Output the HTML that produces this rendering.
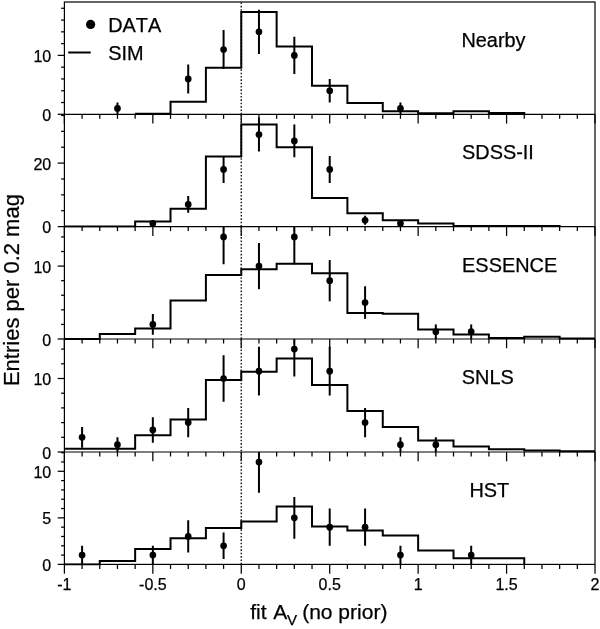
<!DOCTYPE html>
<html><head><meta charset="utf-8"><style>
html,body{margin:0;padding:0;background:#fff;}
svg{display:block;font-family:"Liberation Sans",sans-serif;font-kerning:none;will-change:transform;}
text{font-kerning:none;stroke:#000;stroke-width:0.25px;}
</style></head><body>
<svg width="600" height="629" viewBox="0 0 600 629" font-family="Liberation Sans, sans-serif" fill="#000">
<rect width="600" height="629" fill="#fff"/>
<clipPath id="c0"><rect x="64.4" y="2.0" width="530.6" height="113.3"/></clipPath>
<line x1="241.27" y1="2.00" x2="241.27" y2="114.30" stroke="#222" stroke-width="1.5" stroke-dasharray="1.6 1.74" stroke-dashoffset="-0.5"/>
<path d="M135.15,113.75 H170.52 V101.75 H205.90 V67.75 H241.27 V12.00 H276.64 V46.50 H312.02 V85.75 H347.39 V103.00 H382.77 V111.25 H418.14 V113.25 H453.51 V111.25 H488.89 V113.00 H524.26 V114.30" fill="none" stroke="#000" stroke-width="2.0" stroke-linejoin="miter" stroke-linecap="butt" clip-path="url(#c0)"/>
<line x1="117.46" y1="102.52" x2="117.46" y2="114.30" stroke="#000" stroke-width="2.0" clip-path="url(#c0)"/>
<circle cx="117.46" cy="108.41" r="3.35" fill="#000" clip-path="url(#c0)"/>
<line x1="188.21" y1="64.53" x2="188.21" y2="93.39" stroke="#000" stroke-width="2.0" clip-path="url(#c0)"/>
<circle cx="188.21" cy="78.96" r="3.35" fill="#000" clip-path="url(#c0)"/>
<line x1="223.58" y1="29.98" x2="223.58" y2="69.04" stroke="#000" stroke-width="2.0" clip-path="url(#c0)"/>
<circle cx="223.58" cy="49.51" r="3.35" fill="#000" clip-path="url(#c0)"/>
<line x1="258.96" y1="9.80" x2="258.96" y2="53.88" stroke="#000" stroke-width="2.0" clip-path="url(#c0)"/>
<circle cx="258.96" cy="31.84" r="3.35" fill="#000" clip-path="url(#c0)"/>
<line x1="294.33" y1="36.77" x2="294.33" y2="74.03" stroke="#000" stroke-width="2.0" clip-path="url(#c0)"/>
<circle cx="294.33" cy="55.40" r="3.35" fill="#000" clip-path="url(#c0)"/>
<line x1="329.71" y1="78.96" x2="329.71" y2="102.52" stroke="#000" stroke-width="2.0" clip-path="url(#c0)"/>
<circle cx="329.71" cy="90.74" r="3.35" fill="#000" clip-path="url(#c0)"/>
<line x1="400.45" y1="102.52" x2="400.45" y2="114.30" stroke="#000" stroke-width="2.0" clip-path="url(#c0)"/>
<circle cx="400.45" cy="108.41" r="3.35" fill="#000" clip-path="url(#c0)"/>
<line x1="57.70" y1="114.30" x2="64.40" y2="114.30" stroke="#000" stroke-width="1.25"/>
<line x1="61.10" y1="102.52" x2="64.40" y2="102.52" stroke="#000" stroke-width="1.25"/>
<line x1="61.10" y1="90.74" x2="64.40" y2="90.74" stroke="#000" stroke-width="1.25"/>
<line x1="61.10" y1="78.96" x2="64.40" y2="78.96" stroke="#000" stroke-width="1.25"/>
<line x1="61.10" y1="67.18" x2="64.40" y2="67.18" stroke="#000" stroke-width="1.25"/>
<line x1="57.70" y1="55.40" x2="64.40" y2="55.40" stroke="#000" stroke-width="1.25"/>
<line x1="61.10" y1="43.62" x2="64.40" y2="43.62" stroke="#000" stroke-width="1.25"/>
<line x1="61.10" y1="31.84" x2="64.40" y2="31.84" stroke="#000" stroke-width="1.25"/>
<line x1="61.10" y1="20.06" x2="64.40" y2="20.06" stroke="#000" stroke-width="1.25"/>
<line x1="61.10" y1="8.28" x2="64.40" y2="8.28" stroke="#000" stroke-width="1.25"/>
<text x="51.2" y="120.90" font-size="16" text-anchor="end">0</text>
<text x="51.2" y="62.00" font-size="16" text-anchor="end">10</text>
<line x1="64.40" y1="114.30" x2="64.40" y2="123.60" stroke="#000" stroke-width="1.25"/>
<line x1="82.09" y1="114.30" x2="82.09" y2="118.80" stroke="#000" stroke-width="1.25"/>
<line x1="99.77" y1="114.30" x2="99.77" y2="118.80" stroke="#000" stroke-width="1.25"/>
<line x1="117.46" y1="114.30" x2="117.46" y2="118.80" stroke="#000" stroke-width="1.25"/>
<line x1="135.15" y1="114.30" x2="135.15" y2="118.80" stroke="#000" stroke-width="1.25"/>
<line x1="152.84" y1="114.30" x2="152.84" y2="123.60" stroke="#000" stroke-width="1.25"/>
<line x1="170.52" y1="114.30" x2="170.52" y2="118.80" stroke="#000" stroke-width="1.25"/>
<line x1="188.21" y1="114.30" x2="188.21" y2="118.80" stroke="#000" stroke-width="1.25"/>
<line x1="205.90" y1="114.30" x2="205.90" y2="118.80" stroke="#000" stroke-width="1.25"/>
<line x1="223.58" y1="114.30" x2="223.58" y2="118.80" stroke="#000" stroke-width="1.25"/>
<line x1="241.27" y1="114.30" x2="241.27" y2="123.60" stroke="#000" stroke-width="1.25"/>
<line x1="258.96" y1="114.30" x2="258.96" y2="118.80" stroke="#000" stroke-width="1.25"/>
<line x1="276.64" y1="114.30" x2="276.64" y2="118.80" stroke="#000" stroke-width="1.25"/>
<line x1="294.33" y1="114.30" x2="294.33" y2="118.80" stroke="#000" stroke-width="1.25"/>
<line x1="312.02" y1="114.30" x2="312.02" y2="118.80" stroke="#000" stroke-width="1.25"/>
<line x1="329.71" y1="114.30" x2="329.71" y2="123.60" stroke="#000" stroke-width="1.25"/>
<line x1="347.39" y1="114.30" x2="347.39" y2="118.80" stroke="#000" stroke-width="1.25"/>
<line x1="365.08" y1="114.30" x2="365.08" y2="118.80" stroke="#000" stroke-width="1.25"/>
<line x1="382.77" y1="114.30" x2="382.77" y2="118.80" stroke="#000" stroke-width="1.25"/>
<line x1="400.45" y1="114.30" x2="400.45" y2="118.80" stroke="#000" stroke-width="1.25"/>
<line x1="418.14" y1="114.30" x2="418.14" y2="123.60" stroke="#000" stroke-width="1.25"/>
<line x1="435.83" y1="114.30" x2="435.83" y2="118.80" stroke="#000" stroke-width="1.25"/>
<line x1="453.51" y1="114.30" x2="453.51" y2="118.80" stroke="#000" stroke-width="1.25"/>
<line x1="471.20" y1="114.30" x2="471.20" y2="118.80" stroke="#000" stroke-width="1.25"/>
<line x1="488.89" y1="114.30" x2="488.89" y2="118.80" stroke="#000" stroke-width="1.25"/>
<line x1="506.58" y1="114.30" x2="506.58" y2="123.60" stroke="#000" stroke-width="1.25"/>
<line x1="524.26" y1="114.30" x2="524.26" y2="118.80" stroke="#000" stroke-width="1.25"/>
<line x1="541.95" y1="114.30" x2="541.95" y2="118.80" stroke="#000" stroke-width="1.25"/>
<line x1="559.64" y1="114.30" x2="559.64" y2="118.80" stroke="#000" stroke-width="1.25"/>
<line x1="577.32" y1="114.30" x2="577.32" y2="118.80" stroke="#000" stroke-width="1.25"/>
<line x1="595.01" y1="114.30" x2="595.01" y2="123.60" stroke="#000" stroke-width="1.25"/>
<text x="461.40" y="47.00" font-size="19.9">Nearby</text>
<clipPath id="c1"><rect x="64.4" y="114.3" width="530.6" height="113.3"/></clipPath>
<line x1="241.27" y1="114.30" x2="241.27" y2="226.60" stroke="#222" stroke-width="1.5" stroke-dasharray="1.6 1.74" stroke-dashoffset="-0.5"/>
<path d="M64.40,226.60 H99.77 V226.60 H135.15 V221.50 H170.52 V208.75 H205.90 V156.60 H241.27 V124.50 H276.64 V147.25 H312.02 V197.90 H347.39 V213.25 H382.77 V220.25 H418.14 V223.50 H453.51 V226.10 H488.89 V225.90 H524.26 V225.90 H559.64 V226.60" fill="none" stroke="#000" stroke-width="2.0" stroke-linejoin="miter" stroke-linecap="butt" clip-path="url(#c1)"/>
<line x1="152.84" y1="220.25" x2="152.84" y2="226.60" stroke="#000" stroke-width="2.0" clip-path="url(#c1)"/>
<circle cx="152.84" cy="223.42" r="3.35" fill="#000" clip-path="url(#c1)"/>
<line x1="188.21" y1="195.97" x2="188.21" y2="212.78" stroke="#000" stroke-width="2.0" clip-path="url(#c1)"/>
<circle cx="188.21" cy="204.38" r="3.35" fill="#000" clip-path="url(#c1)"/>
<line x1="223.58" y1="155.98" x2="223.58" y2="182.92" stroke="#000" stroke-width="2.0" clip-path="url(#c1)"/>
<circle cx="223.58" cy="169.45" r="3.35" fill="#000" clip-path="url(#c1)"/>
<line x1="258.96" y1="117.43" x2="258.96" y2="151.62" stroke="#000" stroke-width="2.0" clip-path="url(#c1)"/>
<circle cx="258.96" cy="134.53" r="3.35" fill="#000" clip-path="url(#c1)"/>
<line x1="294.33" y1="124.38" x2="294.33" y2="157.37" stroke="#000" stroke-width="2.0" clip-path="url(#c1)"/>
<circle cx="294.33" cy="140.88" r="3.35" fill="#000" clip-path="url(#c1)"/>
<line x1="329.71" y1="155.98" x2="329.71" y2="182.92" stroke="#000" stroke-width="2.0" clip-path="url(#c1)"/>
<circle cx="329.71" cy="169.45" r="3.35" fill="#000" clip-path="url(#c1)"/>
<line x1="365.08" y1="215.76" x2="365.08" y2="224.74" stroke="#000" stroke-width="2.0" clip-path="url(#c1)"/>
<circle cx="365.08" cy="220.25" r="3.35" fill="#000" clip-path="url(#c1)"/>
<line x1="400.45" y1="220.25" x2="400.45" y2="226.60" stroke="#000" stroke-width="2.0" clip-path="url(#c1)"/>
<circle cx="400.45" cy="223.42" r="3.35" fill="#000" clip-path="url(#c1)"/>
<line x1="57.70" y1="226.60" x2="64.40" y2="226.60" stroke="#000" stroke-width="1.25"/>
<line x1="61.10" y1="210.72" x2="64.40" y2="210.72" stroke="#000" stroke-width="1.25"/>
<line x1="61.10" y1="194.85" x2="64.40" y2="194.85" stroke="#000" stroke-width="1.25"/>
<line x1="61.10" y1="178.97" x2="64.40" y2="178.97" stroke="#000" stroke-width="1.25"/>
<line x1="57.70" y1="163.10" x2="64.40" y2="163.10" stroke="#000" stroke-width="1.25"/>
<line x1="61.10" y1="147.22" x2="64.40" y2="147.22" stroke="#000" stroke-width="1.25"/>
<line x1="61.10" y1="131.35" x2="64.40" y2="131.35" stroke="#000" stroke-width="1.25"/>
<line x1="61.10" y1="115.47" x2="64.40" y2="115.47" stroke="#000" stroke-width="1.25"/>
<text x="51.2" y="233.20" font-size="16" text-anchor="end">0</text>
<text x="51.2" y="169.70" font-size="16" text-anchor="end">20</text>
<line x1="64.40" y1="226.60" x2="64.40" y2="235.90" stroke="#000" stroke-width="1.25"/>
<line x1="82.09" y1="226.60" x2="82.09" y2="231.10" stroke="#000" stroke-width="1.25"/>
<line x1="99.77" y1="226.60" x2="99.77" y2="231.10" stroke="#000" stroke-width="1.25"/>
<line x1="117.46" y1="226.60" x2="117.46" y2="231.10" stroke="#000" stroke-width="1.25"/>
<line x1="135.15" y1="226.60" x2="135.15" y2="231.10" stroke="#000" stroke-width="1.25"/>
<line x1="152.84" y1="226.60" x2="152.84" y2="235.90" stroke="#000" stroke-width="1.25"/>
<line x1="170.52" y1="226.60" x2="170.52" y2="231.10" stroke="#000" stroke-width="1.25"/>
<line x1="188.21" y1="226.60" x2="188.21" y2="231.10" stroke="#000" stroke-width="1.25"/>
<line x1="205.90" y1="226.60" x2="205.90" y2="231.10" stroke="#000" stroke-width="1.25"/>
<line x1="223.58" y1="226.60" x2="223.58" y2="231.10" stroke="#000" stroke-width="1.25"/>
<line x1="241.27" y1="226.60" x2="241.27" y2="235.90" stroke="#000" stroke-width="1.25"/>
<line x1="258.96" y1="226.60" x2="258.96" y2="231.10" stroke="#000" stroke-width="1.25"/>
<line x1="276.64" y1="226.60" x2="276.64" y2="231.10" stroke="#000" stroke-width="1.25"/>
<line x1="294.33" y1="226.60" x2="294.33" y2="231.10" stroke="#000" stroke-width="1.25"/>
<line x1="312.02" y1="226.60" x2="312.02" y2="231.10" stroke="#000" stroke-width="1.25"/>
<line x1="329.71" y1="226.60" x2="329.71" y2="235.90" stroke="#000" stroke-width="1.25"/>
<line x1="347.39" y1="226.60" x2="347.39" y2="231.10" stroke="#000" stroke-width="1.25"/>
<line x1="365.08" y1="226.60" x2="365.08" y2="231.10" stroke="#000" stroke-width="1.25"/>
<line x1="382.77" y1="226.60" x2="382.77" y2="231.10" stroke="#000" stroke-width="1.25"/>
<line x1="400.45" y1="226.60" x2="400.45" y2="231.10" stroke="#000" stroke-width="1.25"/>
<line x1="418.14" y1="226.60" x2="418.14" y2="235.90" stroke="#000" stroke-width="1.25"/>
<line x1="435.83" y1="226.60" x2="435.83" y2="231.10" stroke="#000" stroke-width="1.25"/>
<line x1="453.51" y1="226.60" x2="453.51" y2="231.10" stroke="#000" stroke-width="1.25"/>
<line x1="471.20" y1="226.60" x2="471.20" y2="231.10" stroke="#000" stroke-width="1.25"/>
<line x1="488.89" y1="226.60" x2="488.89" y2="231.10" stroke="#000" stroke-width="1.25"/>
<line x1="506.58" y1="226.60" x2="506.58" y2="235.90" stroke="#000" stroke-width="1.25"/>
<line x1="524.26" y1="226.60" x2="524.26" y2="231.10" stroke="#000" stroke-width="1.25"/>
<line x1="541.95" y1="226.60" x2="541.95" y2="231.10" stroke="#000" stroke-width="1.25"/>
<line x1="559.64" y1="226.60" x2="559.64" y2="231.10" stroke="#000" stroke-width="1.25"/>
<line x1="577.32" y1="226.60" x2="577.32" y2="231.10" stroke="#000" stroke-width="1.25"/>
<line x1="595.01" y1="226.60" x2="595.01" y2="235.90" stroke="#000" stroke-width="1.25"/>
<text x="462.00" y="159.30" font-size="19.9">SDSS-II</text>
<clipPath id="c2"><rect x="64.4" y="226.6" width="530.6" height="113.4"/></clipPath>
<line x1="241.27" y1="226.60" x2="241.27" y2="339.00" stroke="#222" stroke-width="1.5" stroke-dasharray="1.6 1.74" stroke-dashoffset="-0.5"/>
<path d="M64.40,339.00 H99.77 V334.00 H135.15 V328.50 H170.52 V300.50 H205.90 V275.00 H241.27 V269.25 H276.64 V263.75 H312.02 V273.25 H347.39 V313.00 H382.77 V313.75 H418.14 V329.50 H453.51 V334.50 H488.89 V338.00 H524.26 V336.75 H559.64 V338.60 H595.01" fill="none" stroke="#000" stroke-width="2.0" stroke-linejoin="miter" stroke-linecap="butt" clip-path="url(#c2)"/>
<line x1="152.84" y1="314.11" x2="152.84" y2="334.73" stroke="#000" stroke-width="2.0" clip-path="url(#c2)"/>
<circle cx="152.84" cy="324.42" r="3.35" fill="#000" clip-path="url(#c2)"/>
<line x1="223.58" y1="226.60" x2="223.58" y2="264.22" stroke="#000" stroke-width="2.0" clip-path="url(#c2)"/>
<circle cx="223.58" cy="236.94" r="3.35" fill="#000" clip-path="url(#c2)"/>
<line x1="258.96" y1="243.05" x2="258.96" y2="289.15" stroke="#000" stroke-width="2.0" clip-path="url(#c2)"/>
<circle cx="258.96" cy="266.10" r="3.35" fill="#000" clip-path="url(#c2)"/>
<line x1="294.33" y1="226.60" x2="294.33" y2="264.22" stroke="#000" stroke-width="2.0" clip-path="url(#c2)"/>
<circle cx="294.33" cy="236.94" r="3.35" fill="#000" clip-path="url(#c2)"/>
<line x1="329.71" y1="260.06" x2="329.71" y2="301.30" stroke="#000" stroke-width="2.0" clip-path="url(#c2)"/>
<circle cx="329.71" cy="280.68" r="3.35" fill="#000" clip-path="url(#c2)"/>
<line x1="365.08" y1="286.25" x2="365.08" y2="318.85" stroke="#000" stroke-width="2.0" clip-path="url(#c2)"/>
<circle cx="365.08" cy="302.55" r="3.35" fill="#000" clip-path="url(#c2)"/>
<line x1="435.83" y1="324.42" x2="435.83" y2="339.00" stroke="#000" stroke-width="2.0" clip-path="url(#c2)"/>
<circle cx="435.83" cy="331.71" r="3.35" fill="#000" clip-path="url(#c2)"/>
<line x1="471.20" y1="324.42" x2="471.20" y2="339.00" stroke="#000" stroke-width="2.0" clip-path="url(#c2)"/>
<circle cx="471.20" cy="331.71" r="3.35" fill="#000" clip-path="url(#c2)"/>
<line x1="57.70" y1="339.00" x2="64.40" y2="339.00" stroke="#000" stroke-width="1.25"/>
<line x1="61.10" y1="324.42" x2="64.40" y2="324.42" stroke="#000" stroke-width="1.25"/>
<line x1="61.10" y1="309.84" x2="64.40" y2="309.84" stroke="#000" stroke-width="1.25"/>
<line x1="61.10" y1="295.26" x2="64.40" y2="295.26" stroke="#000" stroke-width="1.25"/>
<line x1="61.10" y1="280.68" x2="64.40" y2="280.68" stroke="#000" stroke-width="1.25"/>
<line x1="57.70" y1="266.10" x2="64.40" y2="266.10" stroke="#000" stroke-width="1.25"/>
<line x1="61.10" y1="251.52" x2="64.40" y2="251.52" stroke="#000" stroke-width="1.25"/>
<line x1="61.10" y1="236.94" x2="64.40" y2="236.94" stroke="#000" stroke-width="1.25"/>
<text x="51.2" y="345.60" font-size="16" text-anchor="end">0</text>
<text x="51.2" y="272.70" font-size="16" text-anchor="end">10</text>
<line x1="64.40" y1="339.00" x2="64.40" y2="348.30" stroke="#000" stroke-width="1.25"/>
<line x1="82.09" y1="339.00" x2="82.09" y2="343.50" stroke="#000" stroke-width="1.25"/>
<line x1="99.77" y1="339.00" x2="99.77" y2="343.50" stroke="#000" stroke-width="1.25"/>
<line x1="117.46" y1="339.00" x2="117.46" y2="343.50" stroke="#000" stroke-width="1.25"/>
<line x1="135.15" y1="339.00" x2="135.15" y2="343.50" stroke="#000" stroke-width="1.25"/>
<line x1="152.84" y1="339.00" x2="152.84" y2="348.30" stroke="#000" stroke-width="1.25"/>
<line x1="170.52" y1="339.00" x2="170.52" y2="343.50" stroke="#000" stroke-width="1.25"/>
<line x1="188.21" y1="339.00" x2="188.21" y2="343.50" stroke="#000" stroke-width="1.25"/>
<line x1="205.90" y1="339.00" x2="205.90" y2="343.50" stroke="#000" stroke-width="1.25"/>
<line x1="223.58" y1="339.00" x2="223.58" y2="343.50" stroke="#000" stroke-width="1.25"/>
<line x1="241.27" y1="339.00" x2="241.27" y2="348.30" stroke="#000" stroke-width="1.25"/>
<line x1="258.96" y1="339.00" x2="258.96" y2="343.50" stroke="#000" stroke-width="1.25"/>
<line x1="276.64" y1="339.00" x2="276.64" y2="343.50" stroke="#000" stroke-width="1.25"/>
<line x1="294.33" y1="339.00" x2="294.33" y2="343.50" stroke="#000" stroke-width="1.25"/>
<line x1="312.02" y1="339.00" x2="312.02" y2="343.50" stroke="#000" stroke-width="1.25"/>
<line x1="329.71" y1="339.00" x2="329.71" y2="348.30" stroke="#000" stroke-width="1.25"/>
<line x1="347.39" y1="339.00" x2="347.39" y2="343.50" stroke="#000" stroke-width="1.25"/>
<line x1="365.08" y1="339.00" x2="365.08" y2="343.50" stroke="#000" stroke-width="1.25"/>
<line x1="382.77" y1="339.00" x2="382.77" y2="343.50" stroke="#000" stroke-width="1.25"/>
<line x1="400.45" y1="339.00" x2="400.45" y2="343.50" stroke="#000" stroke-width="1.25"/>
<line x1="418.14" y1="339.00" x2="418.14" y2="348.30" stroke="#000" stroke-width="1.25"/>
<line x1="435.83" y1="339.00" x2="435.83" y2="343.50" stroke="#000" stroke-width="1.25"/>
<line x1="453.51" y1="339.00" x2="453.51" y2="343.50" stroke="#000" stroke-width="1.25"/>
<line x1="471.20" y1="339.00" x2="471.20" y2="343.50" stroke="#000" stroke-width="1.25"/>
<line x1="488.89" y1="339.00" x2="488.89" y2="343.50" stroke="#000" stroke-width="1.25"/>
<line x1="506.58" y1="339.00" x2="506.58" y2="348.30" stroke="#000" stroke-width="1.25"/>
<line x1="524.26" y1="339.00" x2="524.26" y2="343.50" stroke="#000" stroke-width="1.25"/>
<line x1="541.95" y1="339.00" x2="541.95" y2="343.50" stroke="#000" stroke-width="1.25"/>
<line x1="559.64" y1="339.00" x2="559.64" y2="343.50" stroke="#000" stroke-width="1.25"/>
<line x1="577.32" y1="339.00" x2="577.32" y2="343.50" stroke="#000" stroke-width="1.25"/>
<line x1="595.01" y1="339.00" x2="595.01" y2="348.30" stroke="#000" stroke-width="1.25"/>
<text x="462.10" y="271.60" font-size="19.9">ESSENCE</text>
<clipPath id="c3"><rect x="64.4" y="339.0" width="530.6" height="114.0"/></clipPath>
<line x1="241.27" y1="339.00" x2="241.27" y2="452.00" stroke="#222" stroke-width="1.5" stroke-dasharray="1.6 1.74" stroke-dashoffset="-0.5"/>
<path d="M64.40,448.80 H99.77 V448.80 H135.15 V435.25 H170.52 V419.50 H205.90 V380.00 H241.27 V371.75 H276.64 V358.50 H312.02 V384.90 H347.39 V410.90 H382.77 V427.00 H418.14 V440.50 H453.51 V446.50 H488.89 V449.25 H524.26 V450.50 H559.64 V451.30 H595.01" fill="none" stroke="#000" stroke-width="2.0" stroke-linejoin="miter" stroke-linecap="butt" clip-path="url(#c3)"/>
<line x1="82.09" y1="426.91" x2="82.09" y2="447.69" stroke="#000" stroke-width="2.0" clip-path="url(#c3)"/>
<circle cx="82.09" cy="437.30" r="3.35" fill="#000" clip-path="url(#c3)"/>
<line x1="117.46" y1="437.30" x2="117.46" y2="452.00" stroke="#000" stroke-width="2.0" clip-path="url(#c3)"/>
<circle cx="117.46" cy="444.65" r="3.35" fill="#000" clip-path="url(#c3)"/>
<line x1="152.84" y1="417.22" x2="152.84" y2="442.68" stroke="#000" stroke-width="2.0" clip-path="url(#c3)"/>
<circle cx="152.84" cy="429.95" r="3.35" fill="#000" clip-path="url(#c3)"/>
<line x1="188.21" y1="407.90" x2="188.21" y2="437.30" stroke="#000" stroke-width="2.0" clip-path="url(#c3)"/>
<circle cx="188.21" cy="422.60" r="3.35" fill="#000" clip-path="url(#c3)"/>
<line x1="223.58" y1="355.26" x2="223.58" y2="401.74" stroke="#000" stroke-width="2.0" clip-path="url(#c3)"/>
<circle cx="223.58" cy="378.50" r="3.35" fill="#000" clip-path="url(#c3)"/>
<line x1="258.96" y1="346.77" x2="258.96" y2="395.53" stroke="#000" stroke-width="2.0" clip-path="url(#c3)"/>
<circle cx="258.96" cy="371.15" r="3.35" fill="#000" clip-path="url(#c3)"/>
<line x1="294.33" y1="339.00" x2="294.33" y2="376.60" stroke="#000" stroke-width="2.0" clip-path="url(#c3)"/>
<circle cx="294.33" cy="349.10" r="3.35" fill="#000" clip-path="url(#c3)"/>
<line x1="329.71" y1="346.77" x2="329.71" y2="395.53" stroke="#000" stroke-width="2.0" clip-path="url(#c3)"/>
<circle cx="329.71" cy="371.15" r="3.35" fill="#000" clip-path="url(#c3)"/>
<line x1="365.08" y1="407.90" x2="365.08" y2="437.30" stroke="#000" stroke-width="2.0" clip-path="url(#c3)"/>
<circle cx="365.08" cy="422.60" r="3.35" fill="#000" clip-path="url(#c3)"/>
<line x1="400.45" y1="437.30" x2="400.45" y2="452.00" stroke="#000" stroke-width="2.0" clip-path="url(#c3)"/>
<circle cx="400.45" cy="444.65" r="3.35" fill="#000" clip-path="url(#c3)"/>
<line x1="435.83" y1="437.30" x2="435.83" y2="452.00" stroke="#000" stroke-width="2.0" clip-path="url(#c3)"/>
<circle cx="435.83" cy="444.65" r="3.35" fill="#000" clip-path="url(#c3)"/>
<line x1="57.70" y1="452.00" x2="64.40" y2="452.00" stroke="#000" stroke-width="1.25"/>
<line x1="61.10" y1="437.30" x2="64.40" y2="437.30" stroke="#000" stroke-width="1.25"/>
<line x1="61.10" y1="422.60" x2="64.40" y2="422.60" stroke="#000" stroke-width="1.25"/>
<line x1="61.10" y1="407.90" x2="64.40" y2="407.90" stroke="#000" stroke-width="1.25"/>
<line x1="61.10" y1="393.20" x2="64.40" y2="393.20" stroke="#000" stroke-width="1.25"/>
<line x1="57.70" y1="378.50" x2="64.40" y2="378.50" stroke="#000" stroke-width="1.25"/>
<line x1="61.10" y1="363.80" x2="64.40" y2="363.80" stroke="#000" stroke-width="1.25"/>
<line x1="61.10" y1="349.10" x2="64.40" y2="349.10" stroke="#000" stroke-width="1.25"/>
<text x="51.2" y="458.60" font-size="16" text-anchor="end">0</text>
<text x="51.2" y="385.10" font-size="16" text-anchor="end">10</text>
<line x1="64.40" y1="452.00" x2="64.40" y2="461.30" stroke="#000" stroke-width="1.25"/>
<line x1="82.09" y1="452.00" x2="82.09" y2="456.50" stroke="#000" stroke-width="1.25"/>
<line x1="99.77" y1="452.00" x2="99.77" y2="456.50" stroke="#000" stroke-width="1.25"/>
<line x1="117.46" y1="452.00" x2="117.46" y2="456.50" stroke="#000" stroke-width="1.25"/>
<line x1="135.15" y1="452.00" x2="135.15" y2="456.50" stroke="#000" stroke-width="1.25"/>
<line x1="152.84" y1="452.00" x2="152.84" y2="461.30" stroke="#000" stroke-width="1.25"/>
<line x1="170.52" y1="452.00" x2="170.52" y2="456.50" stroke="#000" stroke-width="1.25"/>
<line x1="188.21" y1="452.00" x2="188.21" y2="456.50" stroke="#000" stroke-width="1.25"/>
<line x1="205.90" y1="452.00" x2="205.90" y2="456.50" stroke="#000" stroke-width="1.25"/>
<line x1="223.58" y1="452.00" x2="223.58" y2="456.50" stroke="#000" stroke-width="1.25"/>
<line x1="241.27" y1="452.00" x2="241.27" y2="461.30" stroke="#000" stroke-width="1.25"/>
<line x1="258.96" y1="452.00" x2="258.96" y2="456.50" stroke="#000" stroke-width="1.25"/>
<line x1="276.64" y1="452.00" x2="276.64" y2="456.50" stroke="#000" stroke-width="1.25"/>
<line x1="294.33" y1="452.00" x2="294.33" y2="456.50" stroke="#000" stroke-width="1.25"/>
<line x1="312.02" y1="452.00" x2="312.02" y2="456.50" stroke="#000" stroke-width="1.25"/>
<line x1="329.71" y1="452.00" x2="329.71" y2="461.30" stroke="#000" stroke-width="1.25"/>
<line x1="347.39" y1="452.00" x2="347.39" y2="456.50" stroke="#000" stroke-width="1.25"/>
<line x1="365.08" y1="452.00" x2="365.08" y2="456.50" stroke="#000" stroke-width="1.25"/>
<line x1="382.77" y1="452.00" x2="382.77" y2="456.50" stroke="#000" stroke-width="1.25"/>
<line x1="400.45" y1="452.00" x2="400.45" y2="456.50" stroke="#000" stroke-width="1.25"/>
<line x1="418.14" y1="452.00" x2="418.14" y2="461.30" stroke="#000" stroke-width="1.25"/>
<line x1="435.83" y1="452.00" x2="435.83" y2="456.50" stroke="#000" stroke-width="1.25"/>
<line x1="453.51" y1="452.00" x2="453.51" y2="456.50" stroke="#000" stroke-width="1.25"/>
<line x1="471.20" y1="452.00" x2="471.20" y2="456.50" stroke="#000" stroke-width="1.25"/>
<line x1="488.89" y1="452.00" x2="488.89" y2="456.50" stroke="#000" stroke-width="1.25"/>
<line x1="506.58" y1="452.00" x2="506.58" y2="461.30" stroke="#000" stroke-width="1.25"/>
<line x1="524.26" y1="452.00" x2="524.26" y2="456.50" stroke="#000" stroke-width="1.25"/>
<line x1="541.95" y1="452.00" x2="541.95" y2="456.50" stroke="#000" stroke-width="1.25"/>
<line x1="559.64" y1="452.00" x2="559.64" y2="456.50" stroke="#000" stroke-width="1.25"/>
<line x1="577.32" y1="452.00" x2="577.32" y2="456.50" stroke="#000" stroke-width="1.25"/>
<line x1="595.01" y1="452.00" x2="595.01" y2="461.30" stroke="#000" stroke-width="1.25"/>
<text x="461.80" y="384.00" font-size="19.9">SNLS</text>
<clipPath id="c4"><rect x="64.4" y="452.0" width="530.6" height="113.39999999999998"/></clipPath>
<line x1="241.27" y1="452.00" x2="241.27" y2="564.40" stroke="#222" stroke-width="1.5" stroke-dasharray="1.6 1.74" stroke-dashoffset="-0.5"/>
<path d="M64.40,564.40 H99.77 V561.00 H135.15 V549.00 H170.52 V538.25 H205.90 V527.90 H241.27 V521.50 H276.64 V506.50 H312.02 V526.40 H347.39 V530.50 H382.77 V535.50 H418.14 V550.50 H453.51 V558.25 H488.89 V558.25 H524.26 V564.40" fill="none" stroke="#000" stroke-width="2.0" stroke-linejoin="miter" stroke-linecap="butt" clip-path="url(#c4)"/>
<line x1="82.09" y1="545.78" x2="82.09" y2="564.40" stroke="#000" stroke-width="2.0" clip-path="url(#c4)"/>
<circle cx="82.09" cy="555.09" r="3.35" fill="#000" clip-path="url(#c4)"/>
<line x1="152.84" y1="545.78" x2="152.84" y2="564.40" stroke="#000" stroke-width="2.0" clip-path="url(#c4)"/>
<circle cx="152.84" cy="555.09" r="3.35" fill="#000" clip-path="url(#c4)"/>
<line x1="188.21" y1="520.34" x2="188.21" y2="552.60" stroke="#000" stroke-width="2.0" clip-path="url(#c4)"/>
<circle cx="188.21" cy="536.47" r="3.35" fill="#000" clip-path="url(#c4)"/>
<line x1="223.58" y1="532.61" x2="223.58" y2="558.95" stroke="#000" stroke-width="2.0" clip-path="url(#c4)"/>
<circle cx="223.58" cy="545.78" r="3.35" fill="#000" clip-path="url(#c4)"/>
<line x1="258.96" y1="452.00" x2="258.96" y2="492.87" stroke="#000" stroke-width="2.0" clip-path="url(#c4)"/>
<circle cx="258.96" cy="461.99" r="3.35" fill="#000" clip-path="url(#c4)"/>
<line x1="294.33" y1="497.03" x2="294.33" y2="538.67" stroke="#000" stroke-width="2.0" clip-path="url(#c4)"/>
<circle cx="294.33" cy="517.85" r="3.35" fill="#000" clip-path="url(#c4)"/>
<line x1="329.71" y1="508.54" x2="329.71" y2="545.78" stroke="#000" stroke-width="2.0" clip-path="url(#c4)"/>
<circle cx="329.71" cy="527.16" r="3.35" fill="#000" clip-path="url(#c4)"/>
<line x1="365.08" y1="508.54" x2="365.08" y2="545.78" stroke="#000" stroke-width="2.0" clip-path="url(#c4)"/>
<circle cx="365.08" cy="527.16" r="3.35" fill="#000" clip-path="url(#c4)"/>
<line x1="400.45" y1="545.78" x2="400.45" y2="564.40" stroke="#000" stroke-width="2.0" clip-path="url(#c4)"/>
<circle cx="400.45" cy="555.09" r="3.35" fill="#000" clip-path="url(#c4)"/>
<line x1="471.20" y1="545.78" x2="471.20" y2="564.40" stroke="#000" stroke-width="2.0" clip-path="url(#c4)"/>
<circle cx="471.20" cy="555.09" r="3.35" fill="#000" clip-path="url(#c4)"/>
<line x1="57.70" y1="564.40" x2="64.40" y2="564.40" stroke="#000" stroke-width="1.25"/>
<line x1="61.10" y1="555.09" x2="64.40" y2="555.09" stroke="#000" stroke-width="1.25"/>
<line x1="61.10" y1="545.78" x2="64.40" y2="545.78" stroke="#000" stroke-width="1.25"/>
<line x1="61.10" y1="536.47" x2="64.40" y2="536.47" stroke="#000" stroke-width="1.25"/>
<line x1="61.10" y1="527.16" x2="64.40" y2="527.16" stroke="#000" stroke-width="1.25"/>
<line x1="57.70" y1="517.85" x2="64.40" y2="517.85" stroke="#000" stroke-width="1.25"/>
<line x1="61.10" y1="508.54" x2="64.40" y2="508.54" stroke="#000" stroke-width="1.25"/>
<line x1="61.10" y1="499.23" x2="64.40" y2="499.23" stroke="#000" stroke-width="1.25"/>
<line x1="61.10" y1="489.92" x2="64.40" y2="489.92" stroke="#000" stroke-width="1.25"/>
<line x1="61.10" y1="480.61" x2="64.40" y2="480.61" stroke="#000" stroke-width="1.25"/>
<line x1="57.70" y1="471.30" x2="64.40" y2="471.30" stroke="#000" stroke-width="1.25"/>
<line x1="61.10" y1="461.99" x2="64.40" y2="461.99" stroke="#000" stroke-width="1.25"/>
<line x1="61.10" y1="452.68" x2="64.40" y2="452.68" stroke="#000" stroke-width="1.25"/>
<text x="51.2" y="571.00" font-size="16" text-anchor="end">0</text>
<text x="51.2" y="524.45" font-size="16" text-anchor="end">5</text>
<text x="51.2" y="477.90" font-size="16" text-anchor="end">10</text>
<line x1="64.40" y1="564.40" x2="64.40" y2="573.70" stroke="#000" stroke-width="1.25"/>
<line x1="82.09" y1="564.40" x2="82.09" y2="568.90" stroke="#000" stroke-width="1.25"/>
<line x1="99.77" y1="564.40" x2="99.77" y2="568.90" stroke="#000" stroke-width="1.25"/>
<line x1="117.46" y1="564.40" x2="117.46" y2="568.90" stroke="#000" stroke-width="1.25"/>
<line x1="135.15" y1="564.40" x2="135.15" y2="568.90" stroke="#000" stroke-width="1.25"/>
<line x1="152.84" y1="564.40" x2="152.84" y2="573.70" stroke="#000" stroke-width="1.25"/>
<line x1="170.52" y1="564.40" x2="170.52" y2="568.90" stroke="#000" stroke-width="1.25"/>
<line x1="188.21" y1="564.40" x2="188.21" y2="568.90" stroke="#000" stroke-width="1.25"/>
<line x1="205.90" y1="564.40" x2="205.90" y2="568.90" stroke="#000" stroke-width="1.25"/>
<line x1="223.58" y1="564.40" x2="223.58" y2="568.90" stroke="#000" stroke-width="1.25"/>
<line x1="241.27" y1="564.40" x2="241.27" y2="573.70" stroke="#000" stroke-width="1.25"/>
<line x1="258.96" y1="564.40" x2="258.96" y2="568.90" stroke="#000" stroke-width="1.25"/>
<line x1="276.64" y1="564.40" x2="276.64" y2="568.90" stroke="#000" stroke-width="1.25"/>
<line x1="294.33" y1="564.40" x2="294.33" y2="568.90" stroke="#000" stroke-width="1.25"/>
<line x1="312.02" y1="564.40" x2="312.02" y2="568.90" stroke="#000" stroke-width="1.25"/>
<line x1="329.71" y1="564.40" x2="329.71" y2="573.70" stroke="#000" stroke-width="1.25"/>
<line x1="347.39" y1="564.40" x2="347.39" y2="568.90" stroke="#000" stroke-width="1.25"/>
<line x1="365.08" y1="564.40" x2="365.08" y2="568.90" stroke="#000" stroke-width="1.25"/>
<line x1="382.77" y1="564.40" x2="382.77" y2="568.90" stroke="#000" stroke-width="1.25"/>
<line x1="400.45" y1="564.40" x2="400.45" y2="568.90" stroke="#000" stroke-width="1.25"/>
<line x1="418.14" y1="564.40" x2="418.14" y2="573.70" stroke="#000" stroke-width="1.25"/>
<line x1="435.83" y1="564.40" x2="435.83" y2="568.90" stroke="#000" stroke-width="1.25"/>
<line x1="453.51" y1="564.40" x2="453.51" y2="568.90" stroke="#000" stroke-width="1.25"/>
<line x1="471.20" y1="564.40" x2="471.20" y2="568.90" stroke="#000" stroke-width="1.25"/>
<line x1="488.89" y1="564.40" x2="488.89" y2="568.90" stroke="#000" stroke-width="1.25"/>
<line x1="506.58" y1="564.40" x2="506.58" y2="573.70" stroke="#000" stroke-width="1.25"/>
<line x1="524.26" y1="564.40" x2="524.26" y2="568.90" stroke="#000" stroke-width="1.25"/>
<line x1="541.95" y1="564.40" x2="541.95" y2="568.90" stroke="#000" stroke-width="1.25"/>
<line x1="559.64" y1="564.40" x2="559.64" y2="568.90" stroke="#000" stroke-width="1.25"/>
<line x1="577.32" y1="564.40" x2="577.32" y2="568.90" stroke="#000" stroke-width="1.25"/>
<line x1="595.01" y1="564.40" x2="595.01" y2="573.70" stroke="#000" stroke-width="1.25"/>
<text x="469.40" y="497.00" font-size="19.9">HST</text>
<rect x="64.4" y="2.0" width="530.60" height="562.40" fill="none" stroke="#000" stroke-width="1.2"/>
<line x1="64.4" y1="114.3" x2="595.0" y2="114.3" stroke="#000" stroke-width="1.2"/>
<line x1="64.4" y1="226.6" x2="595.0" y2="226.6" stroke="#000" stroke-width="1.2"/>
<line x1="64.4" y1="339.0" x2="595.0" y2="339.0" stroke="#000" stroke-width="1.2"/>
<line x1="64.4" y1="452.0" x2="595.0" y2="452.0" stroke="#000" stroke-width="1.2"/>
<text x="64.40" y="589.6" font-size="16" text-anchor="middle">-1</text>
<text x="152.84" y="589.6" font-size="16" text-anchor="middle">-0.5</text>
<text x="241.27" y="589.6" font-size="16" text-anchor="middle">0</text>
<text x="329.71" y="589.6" font-size="16" text-anchor="middle">0.5</text>
<text x="418.14" y="589.6" font-size="16" text-anchor="middle">1</text>
<text x="506.58" y="589.6" font-size="16" text-anchor="middle">1.5</text>
<text x="595.01" y="589.6" font-size="16" text-anchor="middle">2</text>
<text x="250.2" y="619.1" font-size="21.0">fit</text>
<text x="273.3" y="619.1" font-size="21.0">A</text>
<text x="286.9" y="625.4" font-size="15.12">V</text>
<text x="302.2" y="619.1" font-size="21.0">(no prior)</text>
<text transform="translate(18.7,290.1) rotate(-90)" font-size="22" text-anchor="middle">Entries per 0.2 mag</text>
<circle cx="90.6" cy="24.4" r="4.6" fill="#000"/>
<text x="108.2" y="32.3" font-size="19.9">DATA</text>
<line x1="68.2" y1="52.5" x2="90.7" y2="52.5" stroke="#000" stroke-width="2"/>
<text x="108.2" y="60.3" font-size="19.9">SIM</text>
</svg>
</body></html>
